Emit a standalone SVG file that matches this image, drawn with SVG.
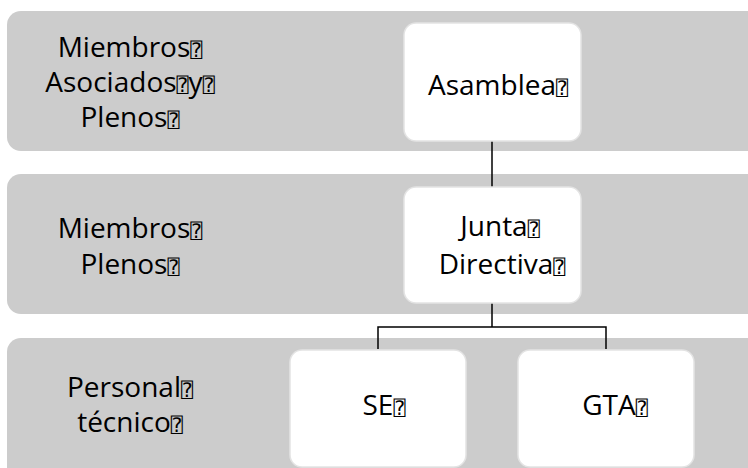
<svg xmlns="http://www.w3.org/2000/svg" width="748" height="468" viewBox="0 0 748 468">
<style>
.band{fill:#cccccc}
.node{fill:#ffffff;stroke:#e3e3e3;stroke-width:1.5}
.t{font-family:"Open Sans","Liberation Sans",sans-serif;font-size:28px;fill:#000;text-anchor:middle}
.q{font-family:"DejaVu Sans Mono","DejaVu Sans",monospace;font-size:20px}
.conn{fill:none;stroke:#000;stroke-width:1.5}
</style>
<g id="bands">
<rect class="band" x="7" y="11" width="760" height="140" rx="14"/>
<rect class="band" x="7" y="174" width="760" height="140" rx="14"/>
<rect class="band" x="7" y="338" width="760" height="150" rx="14"/>
</g>
<g id="connectors">
<path class="conn" d="M492 141V187"/>
<path class="conn" d="M492 303V327M378 349V327H606V349"/>
</g>
<g id="label-miembros-asociados">
<text class="t" x="130" y="57">Miembros<tspan class="q">⍰</tspan></text>
<text class="t" x="130" y="92">Asociados<tspan class="q">⍰</tspan>y<tspan class="q">⍰</tspan></text>
<text class="t" x="130" y="127">Plenos<tspan class="q">⍰</tspan></text>
</g>
<g id="label-miembros-plenos">
<text class="t" x="130" y="238">Miembros<tspan class="q">⍰</tspan></text>
<text class="t" x="130" y="274">Plenos<tspan class="q">⍰</tspan></text>
</g>
<g id="label-personal">
<text class="t" x="130" y="397">Personal<tspan class="q">⍰</tspan></text>
<text class="t" x="130" y="432">técnico<tspan class="q">⍰</tspan></text>
</g>
<g id="asamblea">
<rect class="node" x="404" y="23" width="177" height="118" rx="12"/>
<text class="t" x="498" y="95">Asamblea<tspan class="q">⍰</tspan></text>
</g>
<g id="junta">
<rect class="node" x="404" y="187" width="177" height="116" rx="12"/>
<text class="t" x="500" y="236">Junta<tspan class="q">⍰</tspan></text>
<text class="t" x="502" y="274">Directiva<tspan class="q">⍰</tspan></text>
</g>
<g id="se">
<rect class="node" x="290" y="350" width="176" height="117" rx="12"/>
<text class="t" x="384" y="415">SE<tspan class="q">⍰</tspan></text>
</g>
<g id="gta">
<rect class="node" x="518" y="350" width="176" height="117" rx="12"/>
<text class="t" x="615" y="415">GTA<tspan class="q">⍰</tspan></text>
</g>
</svg>
